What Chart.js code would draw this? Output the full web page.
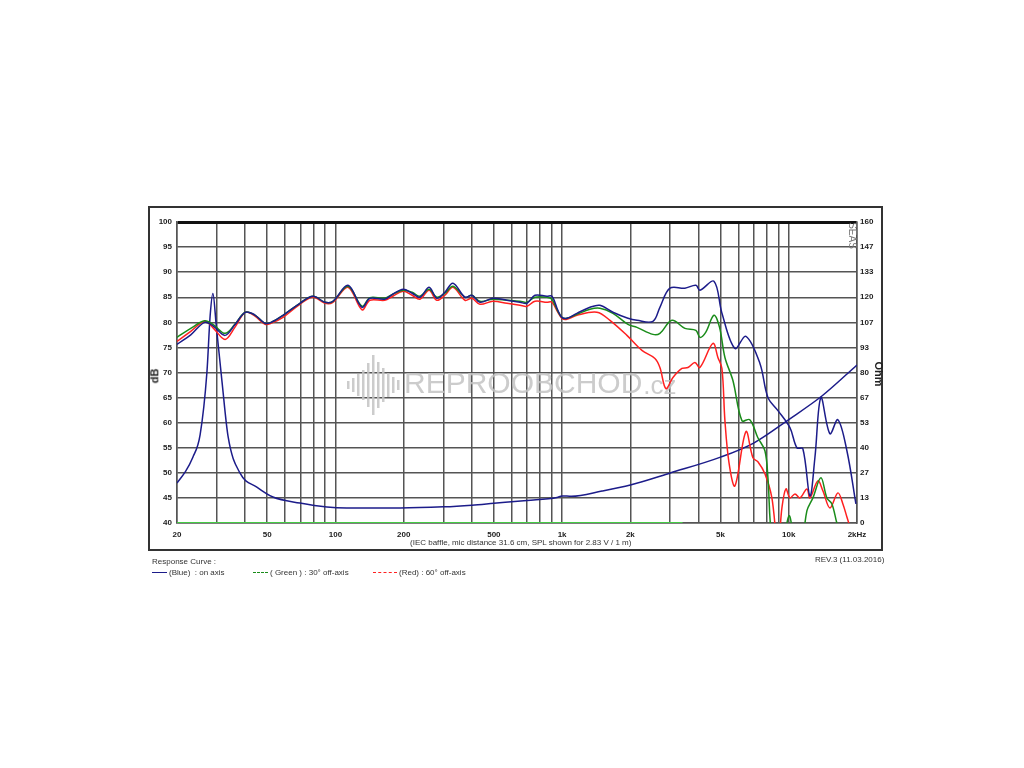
<!DOCTYPE html>
<html>
<head>
<meta charset="utf-8">
<script src="https://cdn.jsdelivr.net/npm/chart.js@4.4.1/dist/chart.umd.min.js"></script>
<style>
  html, body { margin: 0; padding: 0; background: #fff; }
  #wrap { position: relative; width: 1024px; height: 768px; font-family: "Liberation Sans", Arial, sans-serif; color: #222; }
  #chart { position: absolute; left: 0; top: 0; }
  .abs { position: absolute; white-space: nowrap; }
  #frame { left: 148px; top: 206px; width: 731px; height: 341px; border: 2px solid #333; }
  .small { font-size: 8px; color: #333; }
  .rot { font-weight: bold; font-size: 11px; }
  .swatch { display: inline-block; width: 15px; height: 0; vertical-align: middle; margin-right: 2px; }
</style>
</head>
<body>
<div id="wrap">
  <div id="frame" class="abs"></div>
  <canvas id="chart" width="1024" height="768"></canvas>
  <div class="abs rot" style="left:147px; top:370px; transform: rotate(-90deg);">dB</div>
  <div class="abs rot" style="left:866px; top:368px; transform: rotate(90deg);">Ohm</div>
  <div class="abs" style="left:839px; top:230px; font-size:10px; color:#777; transform: rotate(90deg);">SEAS</div>
  <div class="abs small" style="left:410px; top:538px;">(IEC baffle, mic distance 31.6 cm, SPL shown for 2.83 V / 1 m)</div>
  <div class="abs small" style="left:815px; top:555px;">REV.3 (11.03.2016)</div>
  <div class="abs small" style="left:152px; top:557px;">Response Curve :</div>
  <div class="abs small" style="left:152px; top:568px;"><span class="swatch" style="border-top:1.5px solid #1c1c8a;"></span>(Blue)&nbsp; : on axis</div>
  <div class="abs small" style="left:253px; top:568px;"><span class="swatch" style="border-top:1px dashed #1a8c1a;"></span>( Green ) : 30° off-axis</div>
  <div class="abs small" style="left:373px; top:568px;"><span class="swatch" style="width:24px; border-top:1px dashed #ff2020;"></span>(Red) : 60° off-axis</div>
</div>
<script>
// x axis (Hz)
const gridFreqs = [20, 30, 40, 50, 60, 70, 80, 90, 100, 200, 300, 400, 500, 600, 700, 800, 900,
  1000, 2000, 3000, 4000, 5000, 6000, 7000, 8000, 9000, 10000, 20000];
const labelFreqs = [20, 50, 100, 200, 500, 1000, 2000, 5000, 10000, 20000];
const labelTexts = ['20', '50', '100', '200', '500', '1k', '2k', '5k', '10k', '2kHz'];

// on axis (blue)
const onAxisFreq = [20, 23, 26.5, 29, 32.6, 36, 40, 44, 48.9, 52, 58.7, 69.7, 79.6, 90, 97.5, 113.6, 131, 142, 165, 179,
  199, 218, 236, 259, 280, 304, 330, 373, 400, 434, 495, 571, 652, 700, 759, 857, 902, 958, 998, 1050,
  1162, 1327, 1468, 1676, 1952, 2139, 2516, 2701, 2990, 3482, 3894, 4055, 4676, 5072, 5786, 6472, 7460, 8093, 8958, 10120,
  10860, 11540, 12400, 13040, 13860, 15190, 16470, 18050, 19780];
const onAxisDb = [75.6, 77.5, 80, 79.2, 77.4, 79.5, 82, 81.5, 79.8, 80, 81.4, 83.8, 85.2, 84, 84.2, 87.4, 83, 84.8, 84.6, 85.6,
  86.6, 85.8, 85, 87, 84.8, 86, 87.8, 85, 85.4, 84, 84.8, 84.4, 84, 83.8, 85.4, 85.2, 85.2, 82.4, 81, 80.8,
  81.8, 83, 83.4, 82, 80.8, 80.4, 80.2, 83, 86.8, 86.8, 87.4, 86.4, 88.2, 81.8, 74.8, 77.2, 71.8, 65, 62.4, 59,
  55, 54.8, 45.4, 53, 65, 57.8, 60.6, 54.4, 43.8];

// 30° off axis (green)
const off30Freq = [20, 23, 26.5, 29, 32.6, 36, 40, 44, 48.9, 52, 58.7, 69.7, 79.6, 90, 97.5, 113.6, 131, 142, 165, 179,
  199, 218, 236, 259, 280, 304, 330, 373, 400, 434, 495, 571, 652, 700, 759, 857, 902, 958, 998, 1050,
  1162, 1327, 1468, 1676, 1952, 2139, 2516, 2701, 3052, 3482, 3894, 4055, 4300, 4676, 4950, 5228, 5670, 6214, 6730, 7308,
  7848, 8093, 8424, 9140, 10016, 10540, 11200, 12020, 12780, 13860, 14730, 15500, 16300, 17160, 18050, 18990];
const off30Db = [77, 78.8, 80.3, 79.5, 77.8, 79.6, 82, 81.5, 79.8, 80, 81.4, 83.8, 85.2, 84, 84.2, 87.2, 83.2, 84.9, 84.8, 85.6,
  86.4, 86, 85.2, 86.6, 85, 85.8, 87.2, 85, 85.4, 84.2, 84.6, 84.4, 84.2, 84, 85, 85, 84.6, 82.2, 81, 80.8,
  81.6, 82.6, 82.8, 81.8, 79.6, 79, 77.6, 77.8, 80.4, 78.8, 78.4, 77, 78, 81.4, 79, 73, 68.4, 60.4, 60.6, 57,
  54.4, 49, 37, 33, 41.4, 37, 33, 42.4, 45, 49, 45, 43.8, 40, 37, 39.5, 37];

// 60° off axis (red)
const off60Freq = [20, 23, 26.5, 29, 32.6, 36, 40, 44, 48.9, 52, 58.7, 69.7, 79.6, 90, 97.5, 113.6, 131, 142, 165, 179,
  199, 218, 236, 259, 280, 304, 330, 373, 400, 434, 495, 571, 652, 700, 759, 857, 902, 958, 998, 1050,
  1162, 1424, 1626, 1932, 2250, 2568, 2701, 2870, 3084, 3378, 3590, 3855, 4055, 4628, 4868, 5072, 5228, 5450, 5786, 6472,
  6948, 7308, 7848, 8424, 8958, 9328, 9716, 10120, 10650, 11200, 12020, 12400, 13440, 14150, 15190, 16470, 17330, 18050, 18990];
const off60Db = [76.2, 78.2, 80.2, 78.8, 76.6, 79, 82, 81.3, 79.6, 79.8, 81, 83.6, 85, 83.8, 84, 87, 82.5, 84.4, 84.4, 85.2,
  86.2, 85.4, 84.6, 86.4, 84.4, 85.4, 87, 84.4, 84.8, 83.6, 84.2, 83.8, 83.4, 83.2, 84.2, 84, 84, 82, 80.8, 80.6,
  81.4, 82, 80.4, 77.4, 74.4, 72.8, 71, 66.8, 69, 70.8, 71, 72, 71, 75.8, 73, 70.8, 60.4, 52, 47.4, 58.2,
  53, 52.2, 49.8, 45, 35, 43, 46.8, 45, 45.8, 45, 46.8, 45, 48.4, 46.4, 43, 46, 43.8, 41.2, 38];

// impedance (right axis)
const impFreq = [20, 21.7, 23.5, 25.3, 27.1, 28, 28.8, 29.8, 31.6, 33.6, 37.9, 45, 53, 69.7, 91.7, 112, 193, 300, 400, 500,
  700, 950, 1000, 1100, 1500, 2000, 3000, 5000, 7000, 10000, 14000, 20000];
const impOhm = [21.3, 27, 35, 47, 80, 110, 122, 105, 75, 46, 26.6, 19.1, 13.8, 10.6, 8.5, 8, 8, 8.6, 9.5, 10.5,
  12, 13.6, 14.4, 14.2, 17, 20.2, 26.6, 35, 42.5, 55, 67.5, 84];

// green line along the bottom
const baseFreq = [20, 3400];
const baseDb = [40, 40];

const zip = (xs, ys) => xs.map((x, i) => ({ x: x, y: ys[i] }));
const tickFont = { family: '"Liberation Sans", Arial, sans-serif', size: 8, weight: 'bold' };

// watermark behind the curves
const watermark = {
    id: 'watermark',
    beforeDatasetsDraw(chart) {
        const ctx = chart.ctx;
        ctx.save();
        ctx.fillStyle = 'rgba(195,195,195,0.85)';
        const bars = [8, 14, 22, 30, 44, 60, 46, 34, 24, 16, 10];
        bars.forEach((h, i) => {
            ctx.fillRect(347 + i * 5, 385 - h / 2, 2.5, h);
        });
        ctx.font = '30px "Liberation Sans", Arial, sans-serif';
        ctx.textBaseline = 'middle';
        ctx.fillText('REPROOBCHOD', 404, 385);
        const w = ctx.measureText('REPROOBCHOD').width;
        ctx.font = '26px "Liberation Sans", Arial, sans-serif';
        ctx.fillText('.cz', 404 + w + 1, 387);
        ctx.restore();
    }
};

new Chart(document.getElementById('chart'), {
    type: 'line',
    data: {
        datasets: [
            { data: zip(onAxisFreq, onAxisDb), borderColor: '#1c1c8a', yAxisID: 'y' },
            { data: zip(off30Freq, off30Db), borderColor: '#1a8c1a', yAxisID: 'y' },
            { data: zip(off60Freq, off60Db), borderColor: '#ff2020', yAxisID: 'y' },
            { data: zip(impFreq, impOhm), borderColor: '#1c1c8a', yAxisID: 'y2', cubicInterpolationMode: 'monotone' },
            { data: zip(baseFreq, baseDb), borderColor: '#44cc44', borderWidth: 2, tension: 0, yAxisID: 'y' }
        ]
    },
    options: {
        responsive: false,
        animation: false,
        parsing: false,
        layout: { padding: { top: 222, left: 0, right: 0, bottom: 0 } },
        elements: {
            point: { radius: 0 },
            line: { borderWidth: 1.5, tension: 0.35, fill: false }
        },
        plugins: {
            legend: { display: false },
            tooltip: { enabled: false }
        },
        scales: {
            x: {
                type: 'logarithmic',
                min: 20,
                max: 20000,
                afterBuildTicks: (scale) => { scale.ticks = gridFreqs.map(v => ({ value: v })); },
                afterFit: (scale) => { scale.height = 245; },
                grid: { color: '#555', lineWidth: 1.5, drawTicks: false },
                border: { color: '#555', width: 1.5 },
                ticks: {
                    autoSkip: false,
                    maxRotation: 0,
                    padding: 7,
                    color: '#222',
                    font: tickFont,
                    callback: (value) => {
                        const i = labelFreqs.indexOf(value);
                        return i >= 0 ? labelTexts[i] : '';
                    }
                }
            },
            y: {
                position: 'left',
                min: 40,
                max: 100,
                afterFit: (scale) => { scale.width = 177; },
                grid: {
                    drawTicks: false,
                    color: (c) => c.tick && c.tick.value === 100 ? '#111' : '#555',
                    lineWidth: (c) => c.tick && c.tick.value === 100 ? 3 : 1.5
                },
                border: { color: '#555', width: 1.5 },
                ticks: { stepSize: 5, padding: 5, color: '#222', font: tickFont }
            },
            y2: {
                position: 'right',
                min: 0,
                max: 160,
                afterFit: (scale) => { scale.width = 167; },
                afterBuildTicks: (scale) => {
                    const t = [];
                    for (let i = 0; i <= 12; i++) t.push({ value: i * 160 / 12 });
                    scale.ticks = t;
                },
                grid: { drawOnChartArea: false, drawTicks: false },
                border: { color: '#555', width: 1.5 },
                ticks: { padding: 3, color: '#222', font: tickFont, callback: (v) => Math.round(v) }
            }
        }
    },
    plugins: [watermark]
});
</script>
</body>
</html>
